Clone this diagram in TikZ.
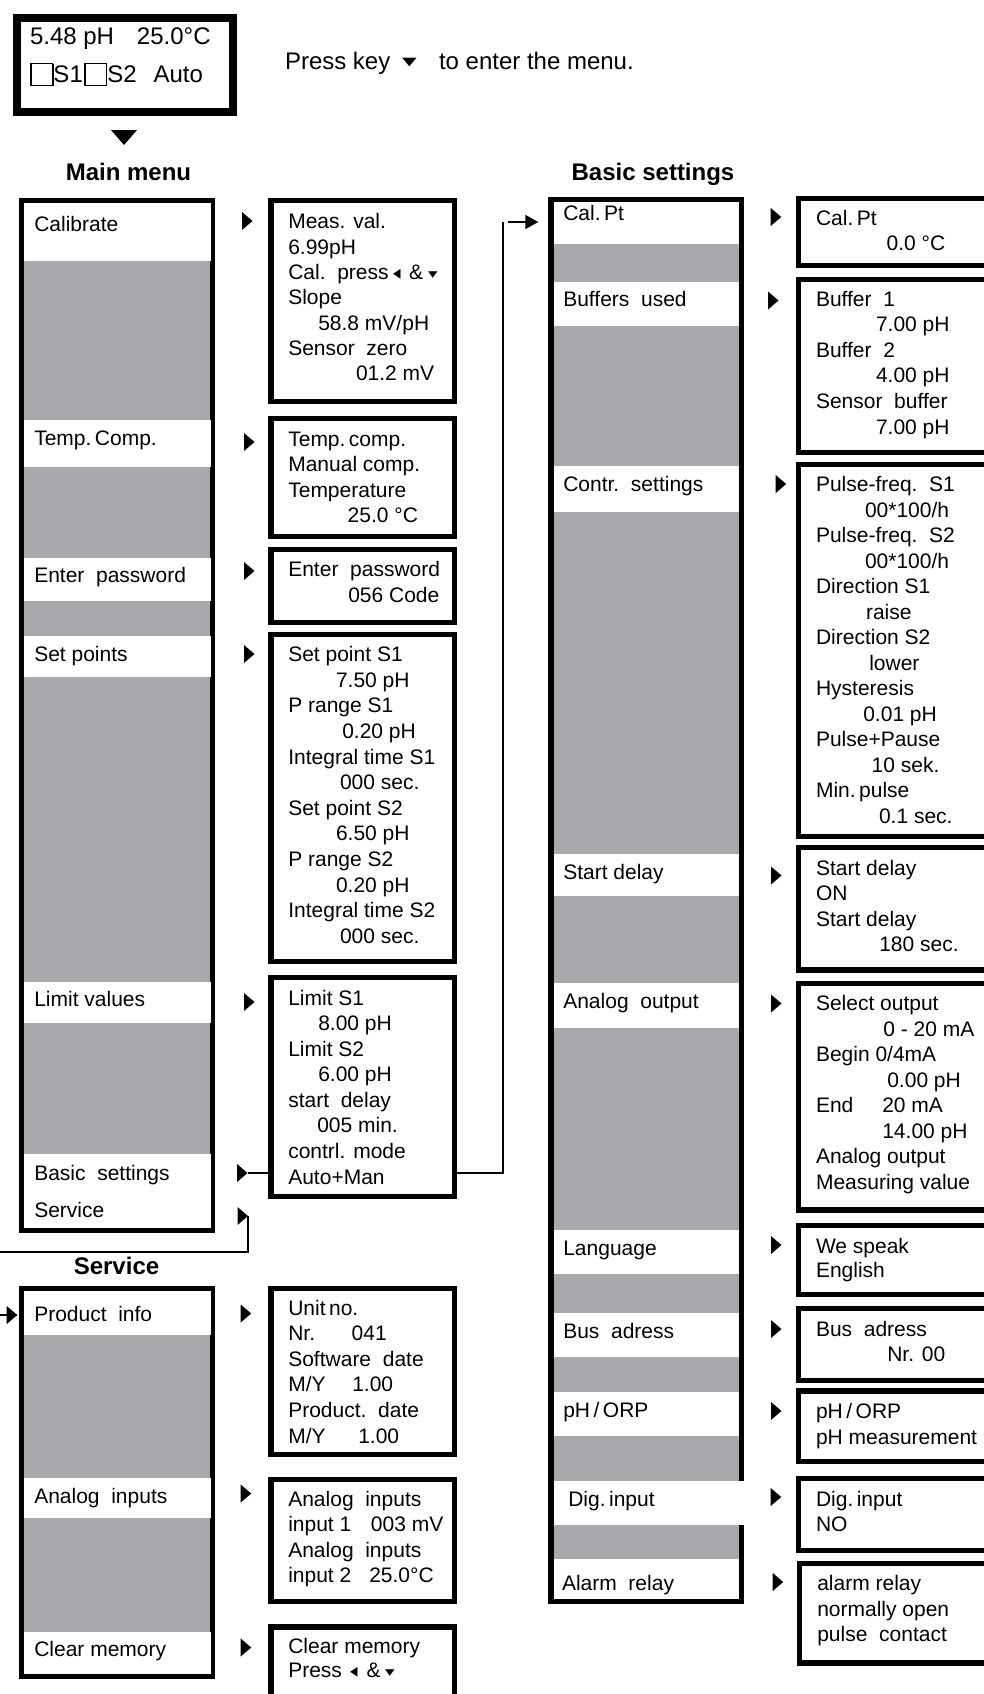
\documentclass[tikz,border=0pt]{standalone}
\usepackage{fontspec}
\setmainfont{Liberation Sans}
\newfontfamily\symf{DejaVu Sans}
\usepackage{graphicx}
\usetikzlibrary{arrows.meta}
\definecolor{menugray}{RGB}{167,169,172}
\newcommand\mychk{\raisebox{-3pt}{\setlength\fboxsep{0pt}\setlength\fboxrule{1.3pt}\fbox{\rule{0pt}{20.6pt}\rule{20.6pt}{0pt}}}}
\newcommand\myleft{{\symf\fontsize{20}{20}\selectfont\scalebox{0.75}[1]{◂}}}
\newcommand\mydown{{\symf\fontsize{19}{19}\selectfont\raisebox{1pt}{\scalebox{1}[0.7]{▾}}}}
\tikzset{
  txt/.style={anchor=base west, inner sep=0pt, outer sep=0pt, font=\fontsize{21}{25}\selectfont},
  dtxt/.style={anchor=base west, inner sep=0pt, outer sep=0pt, font=\fontsize{24}{28}\selectfont},
  hd/.style={anchor=base, inner sep=0pt, font=\fontsize{24}{28}\selectfont\bfseries},
  bxs/.style={draw, line width=5.3pt, inner sep=0pt, outer sep=0pt, anchor=north west, fill=white},
  colx/.style={bxs, fill=menugray},
  conn/.style={line width=1.8pt},
}
% box from outer corners
\newcommand\bx[6][bxs]{\node[#1, minimum width={#5-#3-5.3}, minimum height={#6-#4-5.3}] (#2) at ({#3+2.65},{#4+2.65}) {};}
% lines of text
\newcommand\lines[5][25.5]{\foreach \dx/\tx [count=\n from 0] in {#5} {\node[txt] (#2-\n) at ({#3+\dx},{#4+\n*#1}) {\tx};}}
% pointer triangle: name, left x, centre y
\newcommand\ptr[3]{\fill (#2,{#3-9}) -- ({#2+10.5},#3) -- (#2,{#3+9}) -- cycle; \coordinate (#1) at ({#2+10.5},#3);}
\begin{document}
\begin{tikzpicture}[x=1pt,y=-1pt]
\useasboundingbox (0,0) rectangle (984,1694);
\clip (0,0) rectangle (984,1694);
\fill[white] (0,0) rectangle (984,1694);

% ---- display ----
\node[draw, line width=8pt, minimum width=216.4, minimum height=94, anchor=north west, inner sep=0pt] (disp) at (12.6,14) {};
\node[dtxt] (d1) at (30,45) {\makebox[107pt][l]{5.48 pH}25.0°C};
\node[dtxt] (d2) at (30.3,82) {\makebox[23.2pt][l]{\mychk}\makebox[30.7pt][l]{S1}\makebox[23.1pt][l]{\mychk}\makebox[46.3pt][l]{S2}Auto};
\node[dtxt] (press) at (285,70) {\makebox[117pt][l]{Press key}\makebox[37pt][l]{\raisebox{4pt}{\symf\fontsize{19}{19}\selectfont\scalebox{1}[0.6]{▼}}}to enter the menu.};
\fill (111,130) -- (137,130) -- (124,145) -- cycle;

% ---- headings ----
\node[hd] (hmain) at (128.5,180) {Main menu};
\node[hd] (hbasic) at (653,180) {Basic settings};
\node[hd] (hserv) at (116.5,1274) {Service};

% ---- main menu column ----
\bx[colx]{main}{19}{198}{215}{1232.7}
\foreach \a/\b in {203/261, 420/467, 558/601, 636/677, 982/1023, 1154/1228}
  \fill[white] (24.3,\a) rectangle (210.7,\b);
\node[txt] (lcal) at (34.3,231) {Calibrate};
\node[txt] (ltemp) at (34.3,445) {Temp.\,Comp.};
\node[txt] (lpw) at (34.3,582.7) {Enter\ \ password};
\node[txt] (lsp) at (34.3,661) {Set points};
\node[txt] (llim) at (34.3,1006) {Limit values};
\node[txt] (lbs) at (34.3,1180) {Basic\ \ settings};
\node[txt] (lsv) at (34.3,1217.7) {Service};

% ---- service column ----
\bx[colx]{serv}{19}{1286}{215}{1679}
\foreach \a/\b in {1291.3/1335, 1478/1518, 1632/1673.7}
  \fill[white] (24.3,\a) rectangle (210.7,\b);
\node[txt] (lpi) at (34.3,1321.7) {Product\ \ info};
\node[txt] (lai) at (34.3,1503.3) {Analog\ \ inputs};
\node[txt] (lcm) at (34.3,1656.7) {Clear memory};

% ---- basic settings column ----
\bx[colx]{bset}{548.3}{196.7}{744.3}{1604}
\foreach \a/\b in {202/244, 282/326, 466/512, 854/896, 983/1028, 1230/1274, 1313/1357, 1392/1436, 1559/1598.7}
  \fill[white] (553.6,\a) rectangle (739,\b);
\fill[white] (553.6,1481) rectangle (746,1525);
\node[txt] (bcal) at (563.3,220.7) {Cal.\,Pt};
\node[txt] (bbuf) at (563.3,306) {Buffers\ \ used};
\node[txt] (bcon) at (563.3,491.7) {Contr.\ \ settings};
\node[txt] (bsd) at (563.3,879.3) {Start delay};
\node[txt] (bao) at (563.3,1008.3) {Analog\ \ output};
\node[txt] (blang) at (563.3,1255) {Language};
\node[txt] (bbus) at (563.3,1338.3) {Bus\ \ adress};
\node[txt] (bph) at (563.3,1417.3) {pH\,/\,ORP};
\node[txt] (bdig) at (568.3,1506) {Dig.\,input};
\node[txt] (bal) at (562,1590.7) {Alarm\ \ relay};

% ---- middle sub boxes ----
\bx{cal}{268.3}{198}{457}{404}
\lines[25.33]{cal}{288.3}{228.7}{0/{Meas. val.}, 0/{6.99pH}, 0/{\makebox[104.7pt][l]{Cal.\ \ press}\makebox[16pt][l]{\myleft}\makebox[19pt][l]{\&}\mydown}, 0/{Slope}, 30/{58.8 mV/pH}, 0/{Sensor\ \ zero}, 67.7/{01.2 mV}}
\bx{temp}{268.3}{416}{457}{539.3}
\lines{temp}{288.3}{446}{0/{Temp.\,comp.}, 0/{Manual comp.}, 0/{Temperature}, 59.4/{25.0 °C}}
\bx{pw}{268.3}{546.7}{457}{625}
\lines[25.6]{pw}{288.3}{576.7}{0/{Enter\ \ password}, 60/{056 Code}}
\bx{sp}{268.3}{631.7}{457}{964}
\lines[25.6]{sp}{288.3}{661.7}{0/{Set point S1}, 47.7/{7.50 pH}, 0/{P range S1}, 54/{0.20 pH}, 0/{Integral time S1}, 51.7/{000 sec.}, 0/{Set point S2}, 47.7/{6.50 pH}, 0/{P range S2}, 47.7/{0.20 pH}, 0/{Integral time S2}, 51.7/{000 sec.}}
\bx{lim}{268.3}{975}{457}{1199.3}
\lines[25.57]{lim}{288.3}{1005}{0/{Limit S1}, 30/{8.00 pH}, 0/{Limit S2}, 30/{6.00 pH}, 0/{start\ \ delay}, 29/{005 min.}, 0/{contrl. mode}, 0/{Auto+Man}}
\bx{prod}{268.3}{1285.7}{457}{1457.3}
\lines[25.6]{prod}{288.3}{1315}{0/{Unit\,no.}, 0/{\makebox[63.4pt][l]{Nr.}041}, 0/{Software\ \ date}, 0/{\makebox[64pt][l]{M/Y}1.00}, 0/{Product.\ \ date}, 0/{\makebox[70pt][l]{M/Y}1.00}}
\bx{ain}{268.3}{1476.7}{457}{1604.3}
\lines[25.5]{ain}{288.3}{1506}{0/{Analog\ \ inputs}, 0/{\makebox[82.7pt][l]{input 1}003 mV}, 0/{Analog\ \ inputs}, 0/{\makebox[81pt][l]{input 2}25.0°C}}
\bx{clr}{268.3}{1624.3}{457}{1720}
\lines[24.4]{clr}{288.3}{1653.3}{0/{Clear memory}, 0/{\makebox[61.7pt][l]{Press}\makebox[16.7pt][l]{\myleft}\makebox[18.3pt][l]{\&}\mydown}}

% ---- right sub boxes ----
\bx{calpt}{795.7}{196}{1010}{268.3}
\lines[25.7]{calpt}{816}{225}{0/{Cal.\,Pt}, 70.7/{0.0 °C}}
\bx{buf}{795.7}{276.7}{1010}{455}
\lines[25.6]{buf}{816}{306}{0/{Buffer\ \ 1}, 60/{7.00 pH}, 0/{Buffer\ \ 2}, 60/{4.00 pH}, 0/{Sensor\ \ buffer}, 60/{7.00 pH}}
\bx{contr}{795.7}{461.7}{1010}{839}
\lines[25.5]{contr}{816}{491.7}{0/{Pulse-freq.\ \ S1}, 49/{00*100/h}, 0/{Pulse-freq.\ \ S2}, 49/{00*100/h}, 0/{Direction S1}, 50/{raise}, 0/{Direction S2}, 53.3/{lower}, 0/{Hysteresis}, 47.3/{0.01 pH}, 0/{Pulse+Pause}, 55.7/{10 sek.}, 0/{Min.\,pulse}, 63/{0.1 sec.}}
\bx{sd}{795.7}{845}{1010}{972.7}
\lines[25.6]{sd}{816}{875}{0/{Start delay}, 0/{ON}, 0/{Start delay}, 63.3/{180 sec.}}
\bx{ao}{795.7}{981}{1010}{1212.7}
\lines[25.5]{ao}{816}{1010.7}{0/{Select output}, 67.3/{0 - 20 mA}, 0/{Begin 0/4mA}, 71.3/{0.00 pH}, 0/{\makebox[66.3pt][l]{End}20 mA}, 66.3/{14.00 pH}, 0/{Analog output}, 0/{Measuring value}}
\bx{lang}{795.7}{1222.7}{1010}{1297.3}
\lines[24.4]{lang}{816}{1253.3}{0/{We speak}, 0/{English}}
\bx{bus}{795.7}{1306}{1010}{1383.3}
\lines[25]{bus}{816}{1336.7}{0/{Bus\ \ adress}, 71.3/{Nr. 00}}
\bx{ph}{795.7}{1388.3}{1010}{1464}
\lines[25.7]{ph}{816}{1418.3}{0/{pH\,/\,ORP}, 0/{pH measurement}}
\bx{dig}{795.7}{1476}{1010}{1553.3}
\lines[25.7]{dig}{816}{1506}{0/{Dig.\,input}, 0/{NO}}
\bx{alarm}{796.7}{1561}{1010}{1665.7}
\lines[25.5]{alarm}{817.3}{1590.7}{0/{alarm relay}, 0/{normally open}, 0/{pulse\ \ contact}}

% ---- pointers, main menu ----
\ptr{pcal}{242}{221}
\ptr{ptemp}{244}{442}
\ptr{ppw}{244}{571}
\ptr{psp}{244}{654}
\ptr{plim}{244}{1002}
\ptr{pbs}{237}{1173}
\ptr{psv}{237.5}{1216}
% ---- pointers, service ----
\ptr{ppi}{240.7}{1313.5}
\ptr{pai}{240.7}{1493.5}
\ptr{pcm}{240.7}{1647.5}
% ---- pointers, basic settings ----
\ptr{bpcal}{770.7}{217}
\ptr{bpbuf}{768}{300.5}
\ptr{bpcon}{775.7}{484}
\ptr{bpsd}{771}{875.5}
\ptr{bpao}{771}{1003.5}
\ptr{bplang}{771}{1245}
\ptr{bpbus}{771}{1329}
\ptr{bpph}{771}{1411}
\ptr{bpdig}{770.7}{1497}
\ptr{bpal}{772.7}{1582}

% ---- connectors ----
\draw[conn] (pbs) -- (pbs -| lim.west);
\coordinate (ctop) at (502.7,222);
\draw[conn] (pbs -| lim.east) -| (ctop);
\coordinate (arrs) at (508.3,222);
\coordinate (arre) at (538.3,222);
\draw[conn,-{Triangle[length=13pt,width=14pt]}] (arrs) -- (arre);
\coordinate (svl) at (-5,1252);
\draw[conn] (psv) |- (svl);
\coordinate (pil) at (-5,1315);
\ptr{ppil}{6.7}{1315}
\draw[conn] (pil) -- (ppil);
\end{tikzpicture}
\end{document}
